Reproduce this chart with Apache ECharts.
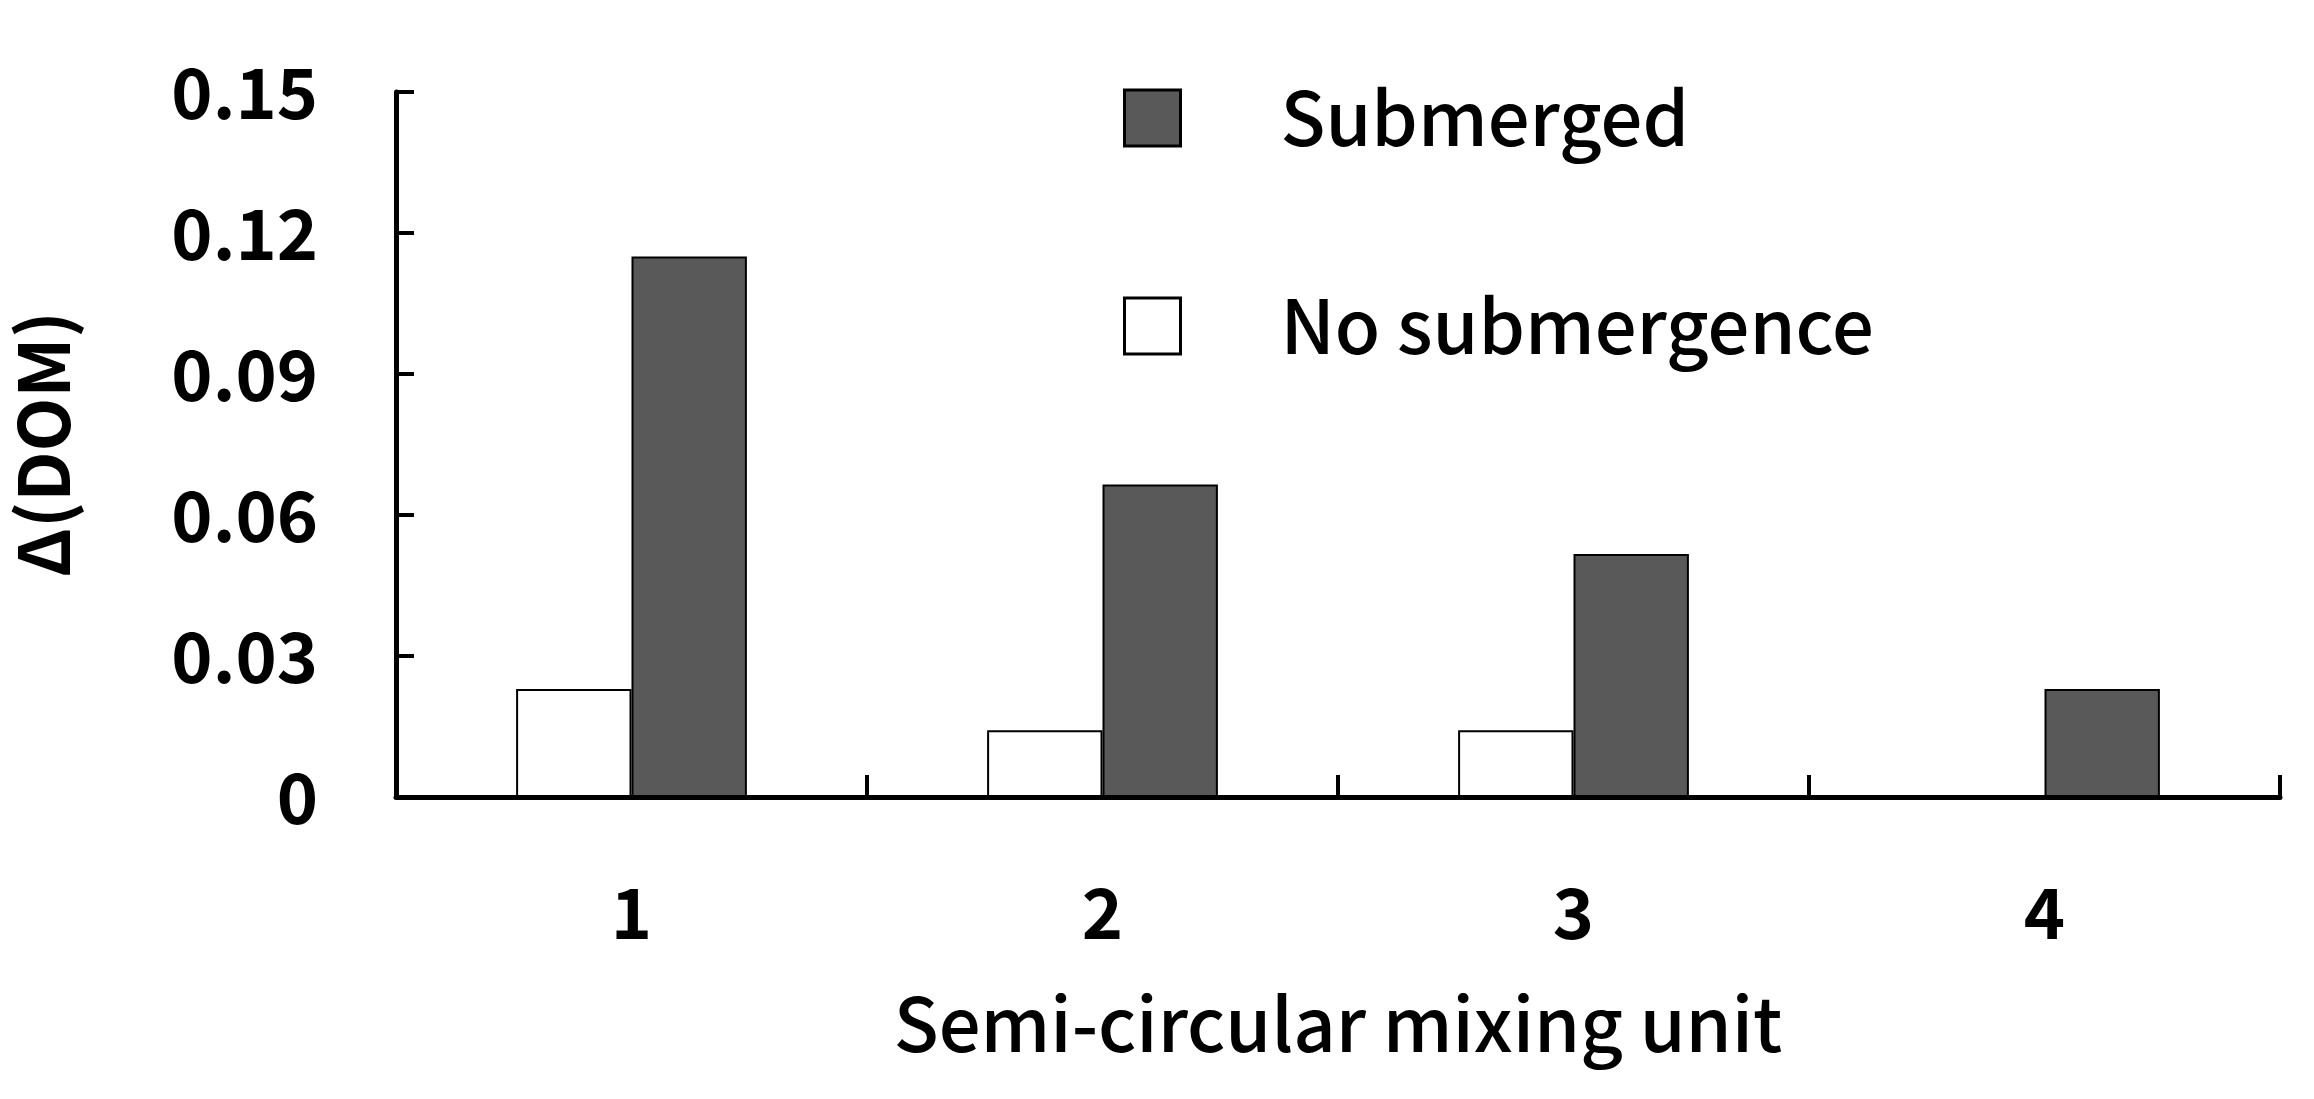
<!DOCTYPE html>
<html><head><meta charset="utf-8">
<script src="https://cdn.jsdelivr.net/npm/echarts@6/dist/echarts.min.js"></script>
<style>html,body{margin:0;padding:0;background:#fff}#c{width:2314px;height:1099px}</style>
</head><body><div id="c"></div>
<script>
const categories = ['1','2','3','4'];
const submerged = [0.115, 0.0665, 0.0517, 0.023];
const noSubmergence = [0.023, 0.0142, 0.0142, 0];
const yTicks = {min:0, max:0.15, interval:0.03};
const F = '"Noto Sans CJK KR","Noto Sans",sans-serif';
const chart = echarts.init(document.getElementById('c'));
chart.setOption({
  backgroundColor:'#fff',
  animation:false,
  grid:{left:392, right:34, top:92, bottom:302},
  legend:{orient:'vertical', left:1118, top:76, itemWidth:56, itemHeight:56, itemGap:134, icon:'rect',
    data:['Submerged','No submergence'],
    itemStyle:{borderColor:'#000', borderWidth:3},
    textStyle:{fontFamily:F, fontSize:74, fontWeight:500, color:'#000', padding:[0,0,0,95]}},
  xAxis:{type:'category', data:categories,
    name:'Semi-circular mixing unit', nameLocation:'middle', nameGap:190,
    nameTextStyle:{fontFamily:F, fontSize:74, fontWeight:500, color:'#000'},
    axisLine:{show:true, lineStyle:{color:'#000', width:5}},
    axisTick:{show:true, inside:true, length:22, lineStyle:{color:'#000', width:4}},
    axisLabel:{fontFamily:F, fontSize:70, fontWeight:'bold', color:'#000', margin:80}},
  yAxis:{type:'value', min:yTicks.min, max:yTicks.max, interval:yTicks.interval,
    name:'Δ(DOM)', nameLocation:'middle', nameGap:318, nameRotate:90,
    nameTextStyle:{fontFamily:F, fontSize:70, fontWeight:'bold', color:'#000'},
    splitLine:{show:false},
    axisLine:{show:true, lineStyle:{color:'#000', width:5}},
    axisTick:{show:true, inside:true, length:18, lineStyle:{color:'#000', width:4}},
    axisLabel:{fontFamily:F, fontSize:70, fontWeight:'bold', color:'#000', margin:78,
      formatter:v=>v===0?'0':v.toFixed(2)}},
  series:[
    {name:'No submergence', type:'bar', data:noSubmergence, barWidth:'24.5%', barGap:'0%',
      itemStyle:{color:'#fff', borderColor:'#000', borderWidth:2}},
    {name:'Submerged', type:'bar', data:submerged, barWidth:'24.5%',
      itemStyle:{color:'#595959', borderColor:'#000', borderWidth:2}}
  ]
});
</script></body></html>
